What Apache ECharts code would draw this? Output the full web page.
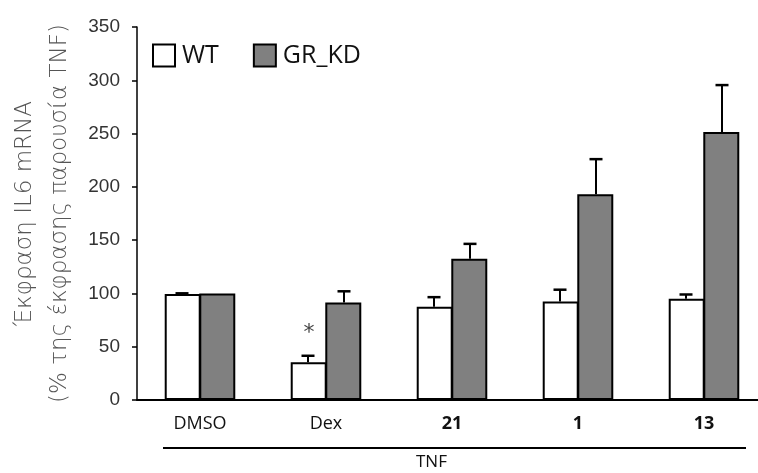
<!DOCTYPE html>
<html>
<head>
<meta charset="utf-8">
<script src="https://cdn.jsdelivr.net/npm/echarts@6/dist/echarts.min.js"></script>
<style>
  html, body { margin: 0; padding: 0; background: #fff; }
  #chart { width: 758px; height: 473px; }
</style>
</head>
<body>
<div id="chart"></div>
<script>
// Treatment groups (all but DMSO in presence of TNF)
const categories = ['DMSO', 'Dex', '21', '1', '13'];
const boldCategories = ['21', '1', '13'];

// IL6 mRNA expression, % of TNF-only expression (mean and SEM)
const wtMean = [99.5, 35.5, 87.5, 92.5, 95];
const wtErr = [0.6, 6, 9, 11, 4];
const kdMean = [100, 91.5, 132.5, 193, 251.5];
const kdErr = [0, 10.5, 14, 33, 44];

// Significance marks above the WT bars
const wtMarks = ['', '*', '', '', ''];

// Y axis ticks
const yMin = 0, yMax = 350, yStep = 50;

const BAR_W = 36;

function errorSeries(name, mean, err, offset, marks) {
  return {
    type: 'custom',
    name: name + ' SEM',
    z: 5,
    silent: true,
    data: mean.map((m, i) => [i, m, err[i], marks ? marks[i] : '']),
    renderItem: function (params, api) {
      const i = api.value(0);
      const m = api.value(1);
      const e = api.value(2);
      const base = api.coord([i, m]);
      const top = api.coord([i, m + e]);
      const x = base[0] + offset;
      const children = [];
      if (e > 0) {
        children.push({
          type: 'line',
          shape: { x1: x, y1: base[1], x2: x, y2: top[1] },
          style: { stroke: '#000', lineWidth: 2 }
        });
        children.push({
          type: 'line',
          shape: { x1: x - 6.5, y1: top[1], x2: x + 6.5, y2: top[1] },
          style: { stroke: '#000', lineWidth: 2.5 }
        });
      }
      const mark = api.value(3);
      if (mark) {
        children.push({
          type: 'text',
          style: {
            x: x + 1, y: top[1] - 22,
            text: mark,
            fill: '#444',
            font: '22px "DejaVu Sans"',
            align: 'center', verticalAlign: 'middle'
          }
        });
      }
      return { type: 'group', children: children };
    }
  };
}

const chart = echarts.init(document.getElementById('chart'), null, { renderer: 'canvas' });

chart.setOption({
  animation: false,
  backgroundColor: '#fff',
  grid: {
    left: 137, width: 630, top: 27, bottom: 73,
    containLabel: false, outerBoundsMode: 'none'
  },
  legend: {
    left: 147, top: 38,
    itemWidth: 22, itemHeight: 22,
    itemGap: 34,
    icon: 'rect',
    data: ['WT', 'GR_KD'],
    itemStyle: { borderColor: '#000', borderWidth: 2 },
    textStyle: { fontFamily: '"Open Sans"', fontSize: 25, color: '#111', padding: [0, 0, 0, 2] }
  },
  xAxis: {
    type: 'category',
    data: categories,
    axisLine: { lineStyle: { color: '#000', width: 2 } },
    axisTick: { show: false },
    axisLabel: {
      margin: 15,
      fontFamily: '"Open Sans"',
      fontSize: 18,
      color: '#111',
      formatter: function (v) {
        return boldCategories.includes(v) ? '{b|' + v + '}' : v;
      },
      rich: { b: { fontWeight: 'bold', fontFamily: '"Open Sans"', fontSize: 18, color: '#111' } }
    }
  },
  yAxis: {
    type: 'value',
    min: yMin, max: yMax, interval: yStep,
    name: 'Έκφραση IL6 mRNA\n(% της έκφρασης παρουσία TNF)',
    nameLocation: 'middle',
    nameRotate: 90,
    nameGap: 53,
    nameTextStyle: {
      fontFamily: '"DejaVu Sans ExtraLight", "DejaVu Sans"', fontWeight: 200,
      fontSize: 23, color: '#555', lineHeight: 35
    },
    axisLine: { show: true, lineStyle: { color: '#000', width: 1.5 } },
    axisTick: { show: true, inside: false, length: 5, lineStyle: { color: '#000', width: 1.5 } },
    splitLine: { show: false },
    axisLabel: {
      margin: 17,
      fontFamily: '"Liberation Sans"', fontSize: 19, color: '#333'
    }
  },
  series: [
    {
      name: 'WT', type: 'bar', data: wtMean,
      barWidth: BAR_W, barGap: '-4%',
      itemStyle: { color: '#fff', borderColor: '#000', borderWidth: 2 }
    },
    {
      name: 'GR_KD', type: 'bar', data: kdMean,
      barWidth: BAR_W, barGap: '-4%',
      itemStyle: { color: '#808080', borderColor: '#000', borderWidth: 2 }
    },
    errorSeries('WT', wtMean, wtErr, -BAR_W / 2, wtMarks),
    errorSeries('GR_KD', kdMean, kdErr, BAR_W / 2, null)
  ],
  graphic: [
    {
      type: 'line',
      shape: { x1: 163, y1: 448, x2: 746, y2: 448 },
      style: { stroke: '#000', lineWidth: 2 }
    },
    {
      type: 'text',
      left: 416, top: 454,
      style: { text: 'TNF', font: '17px "Open Sans"', fill: '#111' }
    }
  ]
});
</script>
</body>
</html>
